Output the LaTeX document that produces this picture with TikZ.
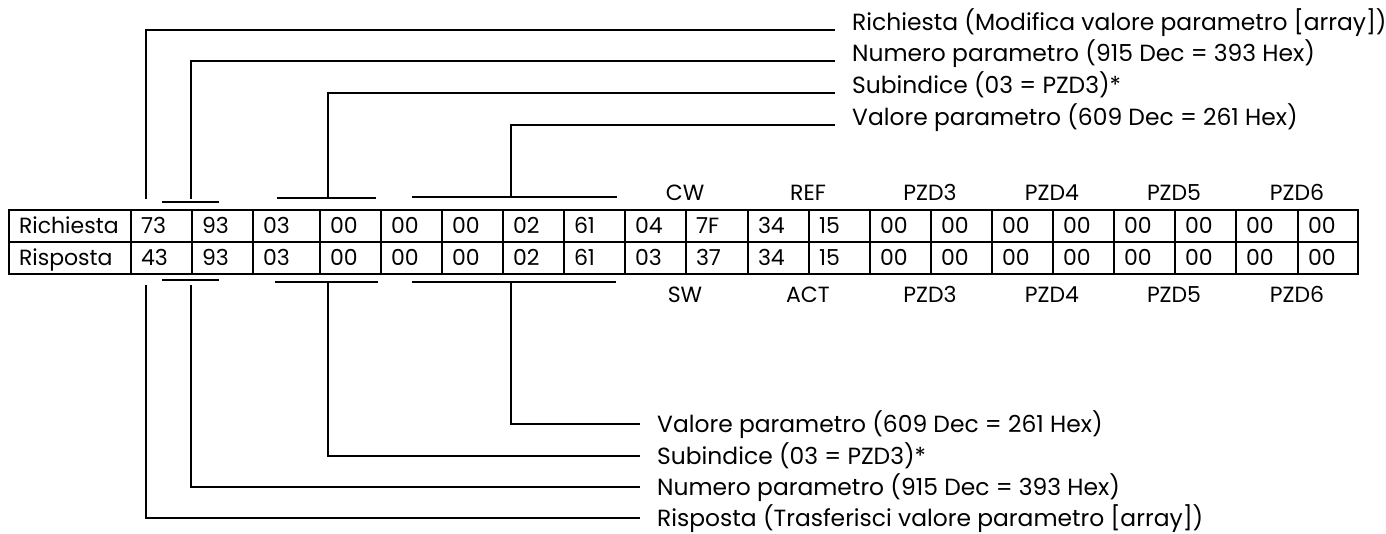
\documentclass[tikz,border=0pt]{standalone}
\usepackage{fontspec}
\setmainfont{Poppins}
\begin{document}
\begin{tikzpicture}[x=1pt,y=-1pt,
  txt/.style={font=\fontsize{23.4}{27}\selectfont},
  celltxt/.style={font=\fontsize{22}{26}\selectfont},
  cell/.style={celltxt, draw, line width=2pt, anchor=north west, minimum height=32pt,
    inner xsep=10pt, inner ysep=0pt, text height=19pt, text depth=4pt, align=left},
  conn/.style={line width=1.8pt},
  lab/.style={txt, inner xsep=17pt, inner ysep=0pt, text height=16pt, text depth=0pt},
  pair/.style={celltxt, anchor=base, inner sep=0pt}]
\useasboundingbox (0,0) rectangle (1386,533);
% table
\foreach \l/\r/\a/\b [count=\i from 0] in {
  8/130/Richiesta/Risposta, 130/191/73/43, 191/252/93/93, 252/319/03/03,
  319/380/00/00, 380/441/00/00, 441/502/00/00, 502/563/02/02, 563/624/61/61,
  624/685/04/03, 685/747/7F/37, 747/808/34/34, 808/869/15/15,
  869/930/00/00, 930/991/00/00, 991/1052/00/00, 1052/1113/00/00,
  1113/1174/00/00, 1174/1235/00/00, 1235/1297/00/00, 1297/1357/00/00} {
  \pgfmathsetmacro\w{\r-\l-20}
  \node[cell, text width=\w pt] (r1c\i) at (\l,209) {\a};
  \node[cell, text width=\w pt] (r2c\i) at (\l,241) {\b};
}
% pair labels
\node[pair] (lCW) at ([yshift=9pt]r1c10.north west) {CW};
\node[pair] (lREF) at ([yshift=9pt]r1c12.north west) {REF};
\node[pair] (lP3a) at ([yshift=9pt]r1c14.north west) {PZD3};
\node[pair] (lP4a) at ([yshift=9pt]r1c16.north west) {PZD4};
\node[pair] (lP5a) at ([yshift=9pt]r1c18.north west) {PZD5};
\node[pair] (lP6a) at ([yshift=9pt]r1c20.north west) {PZD6};
\node[pair] (lSW) at ([yshift=-27pt]r2c10.south west) {SW};
\node[pair] (lACT) at ([yshift=-27pt]r2c12.south west) {ACT};
\node[pair] (lP3b) at ([yshift=-27pt]r2c14.south west) {PZD3};
\node[pair] (lP4b) at ([yshift=-27pt]r2c16.south west) {PZD4};
\node[pair] (lP5b) at ([yshift=-27pt]r2c18.south west) {PZD5};
\node[pair] (lP6b) at ([yshift=-27pt]r2c20.south west) {PZD6};
% top texts
\node[lab, anchor=base west] (tReq) at (835,30) {Richiesta (Modifica valore parametro [array])};
\node[lab, anchor=base west] (tNum) at (835,61) {Numero parametro (915 Dec = 393 Hex)};
\node[lab, anchor=base west] (tSub) at (835,93) {Subindice (03 = PZD3)*};
\node[lab, anchor=base west] (tVal) at (835,125) {Valore parametro (609 Dec = 261 Hex)};
% bottom texts
\node[lab, anchor=west] (bVal) at (640,424) {Valore parametro (609 Dec = 261 Hex)};
\node[lab, anchor=west] (bSub) at (640,456) {Subindice (03 = PZD3)*};
\node[lab, anchor=west] (bNum) at (640,487) {Numero parametro (915 Dec = 393 Hex)};
\node[lab, anchor=west] (bRis) at (640,518) {Risposta (Trasferisci valore parametro [array])};
% top brackets
\coordinate (v1t) at (146,199);
\coordinate (v2t) at (191,199);
\coordinate (v3t) at (328,198);
\coordinate (v4t) at (511,197);
\draw[conn] (162,202) -- (219,202);
\draw[conn] (277,198) -- (376,198);
\draw[conn] (412,197) -- (617,197);
\draw[conn] (v1t) -- (v1t |- tReq.base west) -- (tReq.base west);
\draw[conn] (v2t) -- (v2t |- tNum.base west) -- (tNum.base west);
\draw[conn] (v3t) -- (v3t |- tSub.base west) -- (tSub.base west);
\draw[conn] (v4t) -- (v4t |- tVal.base west) -- (tVal.base west);
% bottom brackets
\coordinate (v1b) at (146,285);
\coordinate (v2b) at (191,285);
\coordinate (v3b) at (328,282);
\coordinate (v4b) at (511,282);
\draw[conn] (162,280) -- (219,280);
\draw[conn] (275,282) -- (378,282);
\draw[conn] (412,282) -- (616,282);
\draw[conn] (v1b) -- (v1b |- bRis.west) -- (bRis.west);
\draw[conn] (v2b) -- (v2b |- bNum.west) -- (bNum.west);
\draw[conn] (v3b) -- (v3b |- bSub.west) -- (bSub.west);
\draw[conn] (v4b) -- (v4b |- bVal.west) -- (bVal.west);
\end{tikzpicture}
\end{document}
